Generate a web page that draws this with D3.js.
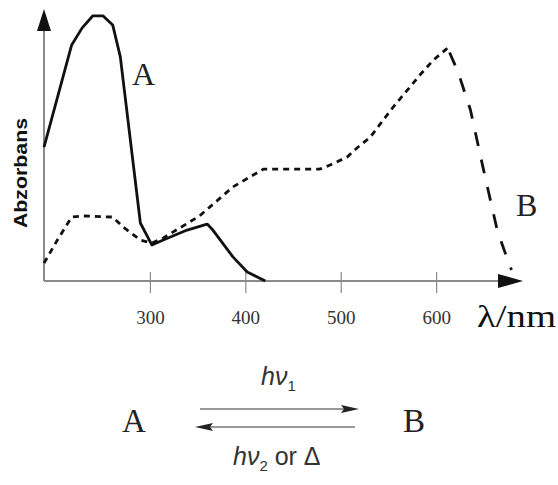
<!DOCTYPE html>
<html>
<head>
<meta charset="utf-8">
<script src="https://cdn.jsdelivr.net/npm/d3@7"></script>
<style>
  body { margin: 0; background: #fff; }
  svg { display: block; }
</style>
</head>
<body>
<div id="chart"></div>
<script>
// wavelength (nm) and absorbance (arb. units)
const wavelengthA = [189, 218, 229, 240, 251, 261, 269, 290, 302, 314, 339, 360, 366, 387, 402, 421];
const absorbA     = [0.494, 0.871, 0.934, 0.978, 0.978, 0.945, 0.827, 0.214, 0.133, 0.151, 0.188, 0.210, 0.188, 0.089, 0.033, 0.0];

const wavelengthB = [189, 203, 218, 230, 261, 272, 290, 302, 314, 352, 387, 419, 478, 489, 507, 517, 531, 543, 555, 570, 583, 597, 612, 623, 636, 649, 664, 675, 679];
const absorbB     = [0.066, 0.151, 0.236, 0.240, 0.236, 0.199, 0.151, 0.140, 0.159, 0.240, 0.347, 0.413, 0.413, 0.428, 0.458, 0.491, 0.531, 0.587, 0.642, 0.705, 0.760, 0.815, 0.860, 0.771, 0.631, 0.421, 0.188, 0.077, 0.041];

const xTicks = [300, 400, 500, 600];

const width = 558, height = 485;

const svg = d3.select("#chart").append("svg")
    .attr("width", width)
    .attr("height", height);

svg.append("rect").attr("width", width).attr("height", height).attr("fill", "#fff");

const x = d3.scaleLinear().domain([189, 690]).range([44, 522]);
const y = d3.scaleLinear().domain([0, 1]).range([281, 10]);

const axisColor = "#8a8a8a";
const serif = "'Liberation Serif', 'Times New Roman', serif";
const sans = "'Liberation Sans', Arial, sans-serif";

// x axis
const xAxis = svg.append("g")
    .attr("transform", `translate(0,${y(0)})`)
    .call(d3.axisBottom(x).tickValues(xTicks).tickSize(12).tickPadding(18))
    .call(g => g.select(".domain").remove());

xAxis.selectAll(".tick line")
    .attr("y1", -9)
    .attr("y2", 12)
    .attr("stroke", axisColor)
    .attr("stroke-width", 1.2);

xAxis.selectAll(".tick text")
    .attr("font-family", serif)
    .attr("font-size", 19)
    .attr("fill", "#333");

// axis lines with arrows
svg.append("line")
    .attr("x1", x(189)).attr("x2", 505)
    .attr("y1", y(0)).attr("y2", y(0))
    .attr("stroke", axisColor).attr("stroke-width", 2);
svg.append("path")
    .attr("d", `M498,${y(0) - 7}L523,${y(0)}L498,${y(0) + 7}Z`)
    .attr("fill", "#111");

svg.append("line")
    .attr("x1", x(189)).attr("x2", x(189))
    .attr("y1", y(0)).attr("y2", 25)
    .attr("stroke", axisColor).attr("stroke-width", 2);
svg.append("path")
    .attr("d", `M${x(189) - 7},31L${x(189)},9L${x(189) + 7},31Z`)
    .attr("fill", "#111");

// curves
const line = d3.line()
    .x(d => x(d[0]))
    .y(d => y(d[1]));

const dataA = wavelengthA.map((w, i) => [w, absorbA[i]]);
const dataB = wavelengthB.map((w, i) => [w, absorbB[i]]);
const peakB = d3.maxIndex(absorbB);

svg.append("path")
    .datum(dataA)
    .attr("d", line)
    .attr("fill", "none")
    .attr("stroke", "#111")
    .attr("stroke-width", 2.8)
    .attr("stroke-linejoin", "round");

svg.append("path")
    .datum(dataB.slice(0, peakB + 1))
    .attr("d", line)
    .attr("fill", "none")
    .attr("stroke", "#111")
    .attr("stroke-width", 2.8)
    .attr("stroke-dasharray", "6,5");

svg.append("path")
    .datum(dataB.slice(peakB))
    .attr("d", line)
    .attr("fill", "none")
    .attr("stroke", "#111")
    .attr("stroke-width", 2.8)
    .attr("stroke-dasharray", "0,5,14,9");

// labels
svg.append("text")
    .attr("x", 132).attr("y", 85)
    .attr("font-family", serif).attr("font-size", 32)
    .attr("fill", "#222")
    .text("A");

svg.append("text")
    .attr("x", 516).attr("y", 216)
    .attr("font-family", serif).attr("font-size", 32)
    .attr("fill", "#222")
    .text("B");

svg.append("text")
    .attr("transform", "translate(27,173) rotate(-90)")
    .attr("text-anchor", "middle")
    .attr("font-family", sans)
    .attr("font-weight", "bold")
    .attr("font-size", 19)
    .attr("textLength", 110)
    .attr("lengthAdjust", "spacingAndGlyphs")
    .attr("fill", "#111")
    .text("Abzorbans");

svg.append("text")
    .attr("x", 477).attr("y", 327)
    .attr("font-family", serif).attr("font-size", 32)
    .attr("textLength", 79)
    .attr("lengthAdjust", "spacingAndGlyphs")
    .attr("fill", "#111")
    .text("λ/nm");

// reaction scheme
svg.append("text")
    .attr("x", 122).attr("y", 432)
    .attr("font-family", serif).attr("font-size", 33)
    .attr("fill", "#222")
    .text("A");

svg.append("text")
    .attr("x", 403).attr("y", 432)
    .attr("font-family", serif).attr("font-size", 33)
    .attr("fill", "#222")
    .text("B");

svg.append("line")
    .attr("x1", 200).attr("x2", 350)
    .attr("y1", 409).attr("y2", 409)
    .attr("stroke", "#777").attr("stroke-width", 1.5);
svg.append("path")
    .attr("d", "M341,405L359,409L341,413L344,409Z")
    .attr("fill", "#222");

svg.append("line")
    .attr("x1", 204).attr("x2", 355)
    .attr("y1", 427).attr("y2", 427)
    .attr("stroke", "#777").attr("stroke-width", 1.5);
svg.append("path")
    .attr("d", "M213,423L195,427L213,431L210,427Z")
    .attr("fill", "#222");

const t1 = svg.append("text")
    .attr("x", 261).attr("y", 385)
    .attr("font-family", sans).attr("font-size", 25)
    .attr("font-style", "italic")
    .attr("fill", "#333");
t1.append("tspan").text("hν");
t1.append("tspan").attr("font-size", 15).attr("font-style", "normal").attr("dy", 6).text("1");

const t2 = svg.append("text")
    .attr("x", 233).attr("y", 465)
    .attr("font-family", sans).attr("font-size", 25)
    .attr("fill", "#333");
t2.append("tspan").attr("font-style", "italic").text("hν");
t2.append("tspan").attr("font-size", 15).attr("dy", 6).text("2");
t2.append("tspan").attr("dy", -6).text(" or Δ");
</script>
</body>
</html>
